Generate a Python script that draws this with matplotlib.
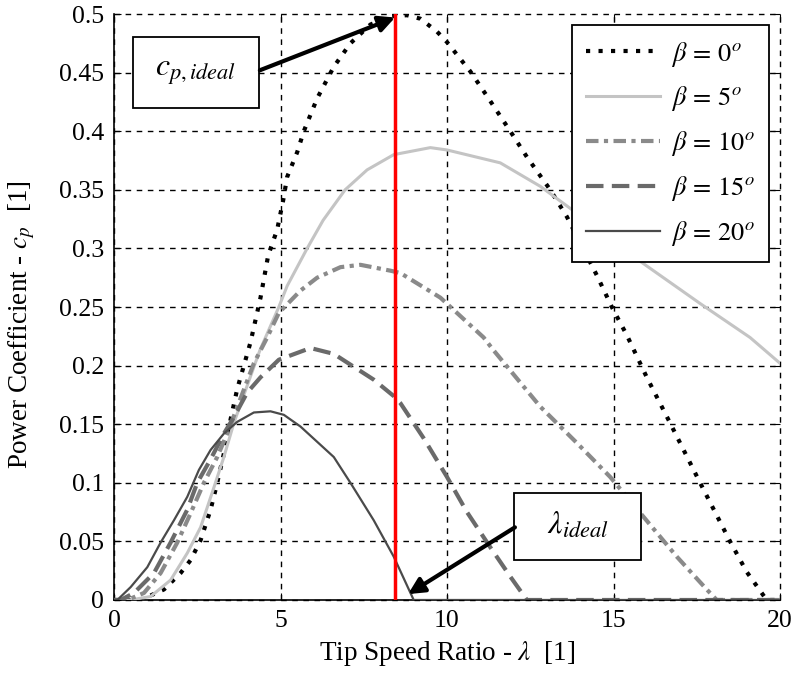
import numpy as np
import matplotlib
matplotlib.use("Agg")
import matplotlib.pyplot as plt
from matplotlib.patches import Rectangle

# courbes cp(lambda) pour différents angles de calage beta
lam_b0 = [0, 0.8, 1.5, 2.0, 2.3, 2.6, 2.9, 3.1, 3.3, 3.5, 3.7, 4.1, 4.4, 4.63, 4.9, 5.08, 5.2,
          5.5, 5.7, 6.1, 6.6, 7.1, 7.7, 8.3, 8.8, 9.2, 9.7, 10.0, 10.7, 11.2, 11.9, 12.4, 13.1,
          13.6, 14.05, 14.5, 14.95, 15.4, 16.0, 16.7, 17.6, 18.5, 19.0, 19.6, 20]
cp_b0 = [0, 0, 0.009, 0.023, 0.034, 0.051, 0.077, 0.1, 0.125, 0.154, 0.18, 0.22, 0.258, 0.294,
         0.316, 0.341, 0.361, 0.382, 0.40, 0.428, 0.455, 0.475, 0.491, 0.498, 0.499, 0.496, 0.485,
         0.476, 0.451, 0.43, 0.40, 0.378, 0.35, 0.327, 0.302, 0.277, 0.25, 0.226, 0.19, 0.151,
         0.10, 0.05, 0.024, 0, 0]

lam_b5 = [0, 0.5, 1.1, 1.7, 2.2, 2.6, 3.0, 3.3, 3.6, 3.9, 4.38, 4.95, 5.2, 5.8, 6.28, 6.94, 7.6,
          8.4, 9.5, 10.0, 11.6, 12.8, 13.9, 15.6, 17.6, 19.1, 20]
cp_b5 = [0, 0, 0.003, 0.017, 0.04, 0.062, 0.096, 0.122, 0.151, 0.175, 0.213, 0.25, 0.268, 0.30,
         0.324, 0.35, 0.367, 0.38, 0.386, 0.384, 0.373, 0.353, 0.33, 0.293, 0.253, 0.224, 0.202]

lam_b10 = [0, 0.4, 0.9, 1.4, 1.9, 2.3, 2.7, 3.1, 3.4, 3.8, 4.2, 4.6, 4.95, 5.6, 6.1, 6.8, 7.4,
           8.3, 8.6, 9.8, 11.1, 11.4, 12.8, 13.9, 14.9, 15.9, 16.9, 17.8, 18.1, 20]
cp_b10 = [0, 0, 0.006, 0.023, 0.049, 0.074, 0.1, 0.122, 0.142, 0.172, 0.202, 0.224, 0.245,
          0.264, 0.275, 0.284, 0.286, 0.281, 0.279, 0.258, 0.224, 0.213, 0.165, 0.134, 0.105,
          0.071, 0.037, 0.009, 0, 0]

lam_b15 = [0, 0.2, 0.6, 1.2, 1.7, 2.2, 2.5, 2.9, 3.3, 3.6, 4.0, 4.4, 4.95, 5.9, 6.6, 7.2, 7.8,
           8.4, 8.6, 9.3, 10.0, 10.6, 11.3, 11.9, 12.4, 20]
cp_b15 = [0, 0, 0.006, 0.023, 0.049, 0.077, 0.1, 0.12, 0.142, 0.156, 0.177, 0.19, 0.205, 0.215,
          0.21, 0.199, 0.188, 0.174, 0.168, 0.138, 0.105, 0.075, 0.045, 0.02, 0, 0]

lam_b20 = [0, 0.1, 0.5, 1.0, 1.4, 1.8, 2.2, 2.55, 2.9, 3.3, 3.7, 4.2, 4.7, 5.1, 5.6, 6.6, 7.1,
           7.8, 8.4, 9.0, 20]
cp_b20 = [0, 0, 0.011, 0.028, 0.049, 0.068, 0.088, 0.111, 0.128, 0.142, 0.152, 0.16, 0.161,
          0.158, 0.148, 0.122, 0.1, 0.068, 0.037, 0, 0]

labels = [r"$\beta\,=\,\mathit{0^o}$", r"$\beta\,=\,\mathit{5^o}$", r"$\beta\,=\,\mathit{10^o}$",
          r"$\beta\,=\,\mathit{15^o}$", r"$\beta\,=\,\mathit{20^o}$"]

lambda_ideal = 8.44
cp_ideal = 0.497

plt.rcParams["font.family"] = ["Liberation Serif", "DejaVu Serif"]
plt.rcParams["mathtext.fontset"] = "stix"

fig = plt.figure(figsize=(8, 6.74), dpi=100)
ax = fig.add_axes([0.1425, 0.1098, 0.8325, 0.8694])

ax.plot(lam_b0, cp_b0, color="black", lw=3, linestyle=(0, (1, 2)), dash_capstyle="butt",
        label=labels[0], zorder=3)
ax.plot(lam_b5, cp_b5, color="#c4c4c4", lw=2.2, label=labels[1], zorder=3)
ax.plot(lam_b10, cp_b10, color="#8a8a8a", lw=3, linestyle=(0, (3, 1.3, 1, 1.3)),
        dash_capstyle="butt", label=labels[2], zorder=3)
ax.plot(lam_b15, cp_b15, color="#6a6a6a", lw=3, linestyle=(0, (4.2, 2)),
        dash_capstyle="butt", label=labels[3], zorder=3)
ax.plot(lam_b20, cp_b20, color="#4a4a4a", lw=1.6, label=labels[4], zorder=3)

# ligne verticale lambda ideal
ax.axvline(lambda_ideal, color="red", lw=2.5, zorder=4)

ax.set_xlim(0, 20)
ax.set_ylim(0, 0.5)
ax.set_xticks([0, 5, 10, 15, 20])
ax.set_yticks(np.arange(0, 0.501, 0.05))
ax.set_yticklabels(["0", "0.05", "0.1", "0.15", "0.2", "0.25", "0.3", "0.35", "0.4", "0.45", "0.5"])
ax.tick_params(labelsize=18.5, direction="in", length=5, top=True, right=True, pad=7)
ax.grid(True, color="black", linestyle=(0, (4, 4)), lw=1)
for gl in ax.get_xgridlines() + ax.get_ygridlines():
    gl.set_clip_on(False)
ax.spines["top"].set_visible(False)
ax.spines["right"].set_visible(False)
ax.spines["left"].set_linewidth(1.2)
ax.spines["bottom"].set_linewidth(1.2)

ax.set_xlabel(r"Tip Speed Ratio - $\lambda$  [1]", fontsize=19.5, labelpad=5)
ax.set_ylabel(r"Power Coefficient - $c_p$  [1]", fontsize=19.5, labelpad=7)
ax.yaxis.set_label_coords(-0.115, 0.47)

leg = ax.legend(loc="upper right", bbox_to_anchor=(769 / 800, 1 - 25 / 674),
                bbox_transform=fig.transFigure, borderaxespad=0, fontsize=19,
                handlelength=2.8, handletextpad=0.4, labelspacing=0.6, borderpad=0.55,
                fancybox=False, framealpha=1)
leg.get_frame().set_edgecolor("black")
leg.get_frame().set_linewidth(1.3)

# boites d'annotation
def boite(xc, yc, w, h, txt):
    ax.add_patch(Rectangle((xc - w / 2, yc - h / 2), w, h, facecolor="white",
                           edgecolor="black", lw=1.3, zorder=5))
    ax.text(xc, yc, txt, fontsize=23, ha="center", va="center", zorder=6)

boite(2.46, 0.45, 3.78, 0.0606, r"$c_{p,ideal}$")
boite(13.93, 0.063, 3.81, 0.057, r"$\lambda_{ideal}$")

ax.annotate("", xy=(lambda_ideal, cp_ideal), xytext=(4.38, 0.452),
            arrowprops=dict(arrowstyle="-|>", color="black", lw=3, mutation_scale=24,
                            shrinkA=0, shrinkB=0), zorder=6)
ax.annotate("", xy=(8.83, 0.005), xytext=(12.04, 0.062),
            arrowprops=dict(arrowstyle="-|>", color="black", lw=3, mutation_scale=24,
                            shrinkA=0, shrinkB=0), zorder=6)

fig.savefig("out.png", dpi=100)
